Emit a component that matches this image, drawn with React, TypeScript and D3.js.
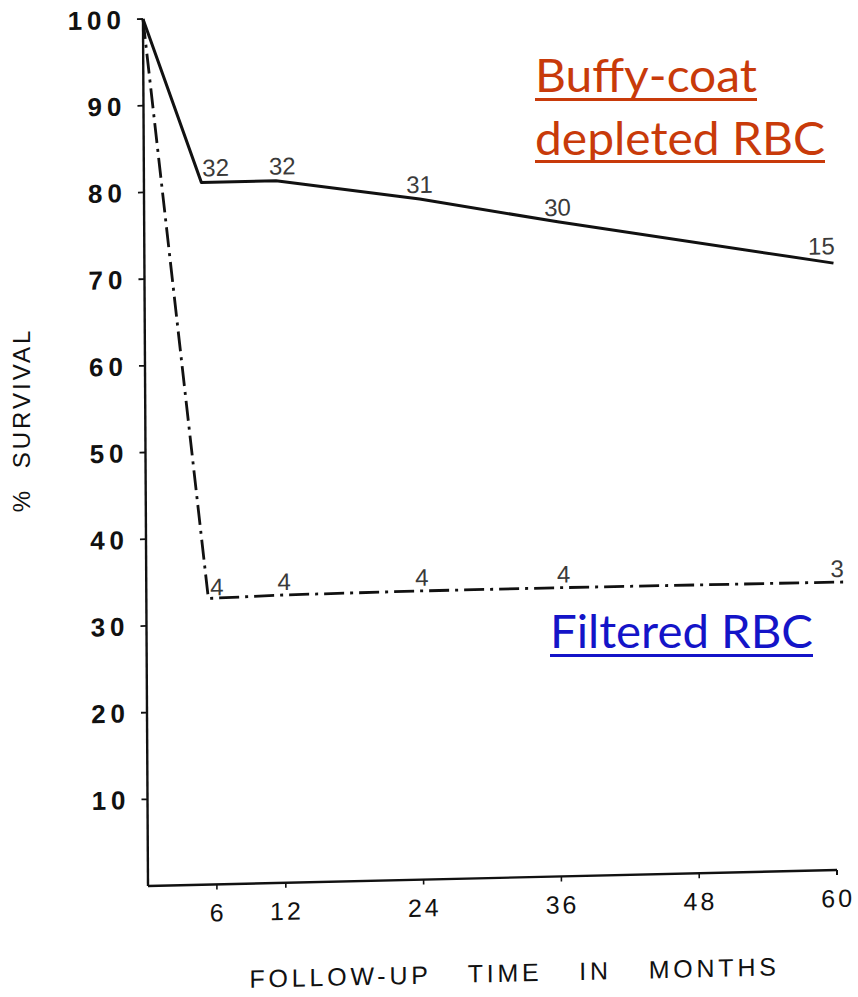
import React from "react";
import * as d3 from "d3";

const months = [0, 5, 11.5, 24, 36, 60];
const buffySurvival = [100, 81, 81, 78.5, 75.5, 70];
const filteredMonths = [0, 5.4, 12, 24, 36, 61];
const filteredSurvival = [100, 33, 33.2, 33.3, 33.3, 33.2];

const buffyCountMonths = [5, 11.5, 24, 36, 60];
const buffyCounts = ["32", "32", "31", "30", "15"];
const filteredCountMonths = [5.4, 12, 24, 36, 60];
const filteredCounts = ["4", "4", "4", "4", "3"];

const yTicks = [10, 20, 30, 40, 50, 60, 70, 80, 90, 100];
const xTicks = [6, 12, 24, 36, 48, 60];

const buffyLabel = ["Buffy-coat", "depleted RBC"];
const filteredLabel = "Filtered RBC";

export default function App() {
  const W = 858;
  const H = 997;
  const x = d3.scaleLinear().domain([0, 60]).range([0, 689]);
  const y = d3.scaleLinear().domain([0, 100]).range([0, -867]);
  const line = d3
    .line<[number, number]>()
    .x((d) => x(d[0]))
    .y((d) => y(d[1]));
  const buffyPts = months.map((m, i) => [m, buffySurvival[i]] as [number, number]);
  const filtPts = filteredMonths.map((m, i) => [m, filteredSurvival[i]] as [number, number]);

  // label offsets (dx, dy, anchor)
  const buffyOff: [number, number, string][] = [
    [1, -6, "start"],
    [-7, -6, "start"],
    [0, -6, "middle"],
    [0, -6, "middle"],
    [-12, -9, "middle"],
  ];
  const filtOff: [number, number, string][] = [
    [2, -3, "start"],
    [0, -5, "middle"],
    [0, -5, "middle"],
    [4, -5, "middle"],
    [2, -5, "middle"],
  ];

  const tickFont = "'Liberation Sans', Arial, sans-serif";
  const calibri = "Lato, 'Open Sans', sans-serif";

  return (
    <svg width={W} height={H} style={{ display: "block", position: "absolute", left: 0, top: 0, background: "#fff" }}>
      <rect width={W} height={H} fill="#fff" />
      <g transform="matrix(1,-0.0232,0.0058,1,148,886)">
        {/* axes */}
        <line x1={0} y1={0} x2={x(60)} y2={0} stroke="#111" strokeWidth={2.4} />
        <line x1={0} y1={0} x2={0} y2={y(100)} stroke="#111" strokeWidth={2.4} />
        <line x1={x(60)} y1={0} x2={x(60)} y2={5} stroke="#111" strokeWidth={2} />
        {yTicks.map((t) => (
          <g key={t}>
            <line x1={-6} x2={0} y1={y(t)} y2={y(t)} stroke="#111" strokeWidth={1.8} />
            <text
              x={-17}
              y={y(t)}
              dy="0.36em"
              textAnchor="end"
              fontFamily={tickFont}
              fontWeight="bold"
              fontSize={26}
              letterSpacing={5}
              fill="#111"
            >
              {t}
            </text>
          </g>
        ))}
        {xTicks.map((t) => (
          <g key={t}>
            <line x1={x(t)} x2={x(t)} y1={0} y2={5} stroke="#111" strokeWidth={1.6} />
            <text
              x={x(t) + 1}
              y={37}
              textAnchor="middle"
              fontFamily={tickFont}
              fontSize={25}
              letterSpacing={3}
              fill="#111"
            >
              {t}
            </text>
          </g>
        ))}
        <text
          x={366}
          y={104}
          textAnchor="middle"
          fontFamily={tickFont}
          fontSize={25}
          letterSpacing={3.8}
          wordSpacing={26}
          fill="#111"
        >
          FOLLOW-UP TIME IN MONTHS
        </text>

        {/* series */}
        <path d={line(buffyPts) || ""} fill="none" stroke="#111" strokeWidth={3} strokeLinejoin="round" />
        <path
          d={line(filtPts) || ""}
          fill="none"
          stroke="#111"
          strokeWidth={2.8}
          strokeDasharray="20,6,3,6"
        />

        {buffyCounts.map((c, i) => (
          <text
            key={"b" + i}
            x={x(buffyCountMonths[i]) + buffyOff[i][0]}
            y={y(buffySurvival[i + 1]) + buffyOff[i][1]}
            textAnchor={buffyOff[i][2] as any}
            fontFamily={tickFont}
            fontSize={24}
            fill="#3a3a3a"
          >
            {c}
          </text>
        ))}
        {filteredCounts.map((c, i) => (
          <text
            key={"f" + i}
            x={x(filteredCountMonths[i]) + filtOff[i][0]}
            y={y(filteredSurvival[i + 1]) + filtOff[i][1]}
            textAnchor={filtOff[i][2] as any}
            fontFamily={tickFont}
            fontSize={24}
            fill="#3a3a3a"
          >
            {c}
          </text>
        ))}
      </g>

      <text
        transform="translate(30,420) rotate(-90)"
        textAnchor="middle"
        fontFamily={tickFont}
        fontSize={24}
        letterSpacing={3}
        wordSpacing={10}
        fill="#111"
      >
        % SURVIVAL
      </text>

      {/* legend labels */}
      <g fontFamily={calibri} fill="#C83A0A">
        <text x={535} y={92} fontSize={46} textLength={222} lengthAdjust="spacingAndGlyphs">
          {buffyLabel[0]}
        </text>
        <rect x={535} y={98} width={222} height={3} />
        <text x={535} y={155} fontSize={46} textLength={290} lengthAdjust="spacingAndGlyphs">
          {buffyLabel[1]}
        </text>
        <rect x={535} y={160} width={290} height={3} />
      </g>
      <g fontFamily={calibri} fill="#1414C8">
        <text x={550} y={648} fontSize={46} textLength={263} lengthAdjust="spacingAndGlyphs">
          {filteredLabel}
        </text>
        <rect x={550} y={654} width={263} height={3} />
      </g>
    </svg>
  );
}
